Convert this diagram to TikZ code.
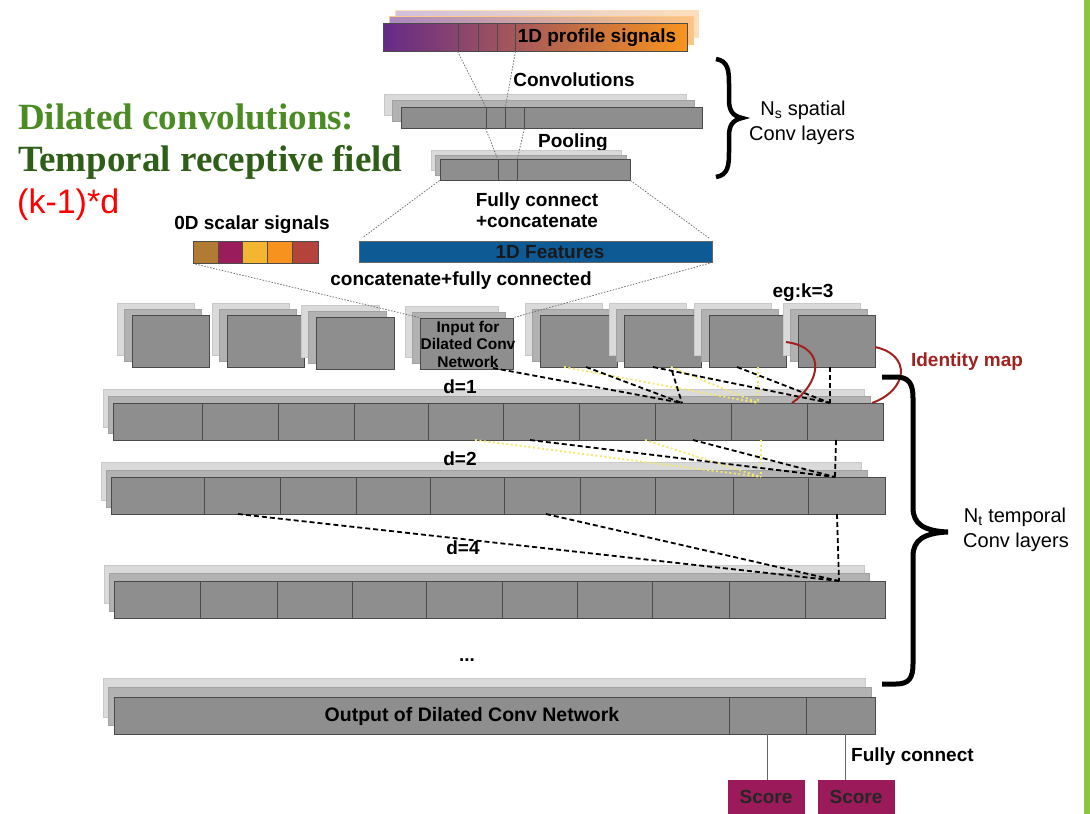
\documentclass[tikz,border=0pt]{standalone}
\usepackage{fontspec}
\setmainfont{Liberation Sans}
\newfontfamily\tserif{Liberation Serif}
\usetikzlibrary{fit,calc}
\definecolor{boxgray}{HTML}{8E8E8E}
\definecolor{boxedge}{HTML}{4A4A4A}
\definecolor{midgray}{HTML}{B2B2B2}
\definecolor{midedge}{HTML}{A2A2A2}
\definecolor{backgray}{HTML}{DADADA}
\definecolor{backedge}{HTML}{C9C9C9}
\definecolor{idred}{HTML}{A0221E}
\definecolor{dotyellow}{HTML}{F3E86A}
\definecolor{greenbar}{HTML}{8DC63F}
\definecolor{featblue}{HTML}{0E5A95}
\definecolor{scorec}{HTML}{9B1B5A}
\definecolor{tgreenA}{HTML}{4B8B23}
\definecolor{tgreenB}{HTML}{2E5E17}
\definecolor{purpA}{HTML}{652A88}
\definecolor{orngA}{HTML}{F8941E}
\definecolor{midA}{HTML}{B9584F}
\definecolor{zdA}{HTML}{B27B33}
\definecolor{zdB}{HTML}{9A1C5B}
\definecolor{zdC}{HTML}{F4B630}
\definecolor{zdD}{HTML}{F7921E}
\definecolor{zdE}{HTML}{B4443B}
\tikzset{
  mainbox/.style={draw=boxedge, fill=boxgray, line width=0.9pt, inner sep=0pt},
  midbox/.style={draw=midedge, fill=midgray, line width=0.6pt, inner sep=0pt},
  backbox/.style={draw=backedge, fill=backgray, line width=0.6pt, inner sep=0pt},
  cellline/.style={draw=boxedge, line width=0.9pt, inner sep=0pt},
  lbl/.style={font=\bfseries\fontsize{19}{22}\selectfont, inner sep=0pt},
  reg/.style={font=\fontsize{20}{24}\selectfont, inner sep=0pt},
  blackdash/.style={draw=black, line width=1.8pt, dash pattern=on 5pt off 3pt},
  yellowdot/.style={draw=dotyellow, line width=1.8pt, dash pattern=on 2pt off 2.5pt},
  graydot/.style={draw=black!55, line width=0.8pt, dash pattern=on 1.5pt off 1.5pt},
  idmap/.style={draw=idred, line width=2pt},
  bracepath/.style={draw=black, line width=5pt},
  thinline/.style={draw=black!60, line width=0.8pt},
}
% stacked box: {name}{x1,y1}{x2,y2}
\newcommand{\stk}[3]{%
  \node[backbox, fit={($(#2)+(-15,-12)$) ($(#3)+(-15,-12)$)}] (#1back) {};
  \node[midbox, fit={($(#2)+(-8,-6)$) ($(#3)+(-8,-6)$)}] (#1mid) {};
  \node[mainbox, fit={(#2) (#3)}] (#1) {};}

\begin{document}
\begin{tikzpicture}[x=1pt,y=-1pt]
\useasboundingbox (0,0) rectangle (1090,814);
\fill[white] (0,0) rectangle (1090,814);
\fill[greenbar] (1084,0) rectangle (1090,814);

% ---- title text
\node[anchor=base west, inner sep=0pt, text=tgreenA, font=\tserif\bfseries\fontsize{37}{40}\selectfont] (t1) at (18,129) {Dilated convolutions:};
\node[anchor=base west, inner sep=0pt, text=tgreenB, font=\tserif\bfseries\fontsize{37}{40}\selectfont] (t2) at (18,171) {Temporal receptive field};
\node[anchor=base west, inner sep=0pt, text=red, font=\fontsize{34}{38}\selectfont] (t3) at (17,213) {(k-1)*d};

% ---- 1D profile signals
\node[backbox, draw=orngA!30, left color=purpA!30, right color=orngA!30, fit={(395,10) (698,37)}] (profback) {};
\node[backbox, draw=orngA!50, left color=purpA!55, right color=orngA!55, fit={(389,16) (693,44)}] (profmid) {};
\node[draw=black!70, line width=0.9pt, inner sep=0pt, left color=purpA, middle color=midA, right color=orngA, fit={(383,23) (687,51)}] (prof) {};
\node[cellline, fit={(458,23) (478,51)}] (pc1) {};
\node[cellline, fit={(478,23) (497,51)}] (pc2) {};
\node[cellline, fit={(497,23) (515,51)}] (pc3) {};
\node[lbl] (proftxt) at (597,38) {1D profile signals};

\node[lbl] (convtxt) at (574,80) {Convolutions};

% ---- conv layer
\node[backbox, fit={(384,94) (686,115)}] (convback) {};
\node[midbox, fit={(392,100) (694,121)}] (convmid) {};
\node[mainbox, fit={(401,107) (702,128)}] (conv) {};
\node[cellline, fit={(486,107) (505,128)}] (cc1) {};
\node[cellline, fit={(505,107) (524,128)}] (cc2) {};

\node[lbl] (pooltxt) at (573,143) {Pooling};

% ---- pool layer
\node[backbox, fit={(431,150) (621,170)}] (poolback) {};
\node[midbox, fit={(435,155) (626,175)}] (poolmid) {};
\node[mainbox, fit={(440,159) (630,180)}] (pool) {};
\node[cellline, fit={(498,159) (517,180)}] (pl1) {};

\draw[graydot] (pc1.south west) -- (cc1.north west);
\draw[graydot] (pc3.south east) -- (cc1.north east);
\draw[graydot] (cc1.south west) -- (pl1.north west);
\draw[graydot] (cc2.south east) -- (pl1.north east);

% ---- braces Ns
\draw[bracepath, line width=4.5pt] (716,59) .. controls (728,61) and (729,70) .. (729,84) -- (729,100) .. controls (729,111) and (733,116) .. (742,118) .. controls (733,120) and (729,125) .. (729,136) -- (729,152) .. controls (729,166) and (728,175) .. (716,177);
\node[reg] (nstxt1) at (803,110) {N\textsubscript{s} spatial};
\node[reg] (nstxt2) at (802,135) {Conv layers};

% ---- features
\node[lbl, align=center, font=\bfseries\fontsize{19}{21}\selectfont] (fctxt) at (537,210) {Fully connect\\+concatenate};
\node[lbl] (zdtxt) at (252,225) {0D scalar signals};
\node[draw=black!70, line width=0.8pt, fill=zdA, inner sep=0pt, fit={(193,241) (218,263)}] (zd1) {};
\node[draw=black!70, line width=0.8pt, fill=zdB, inner sep=0pt, fit={(218,241) (242,263)}] (zd2) {};
\node[draw=black!70, line width=0.8pt, fill=zdC, inner sep=0pt, fit={(242,241) (267,263)}] (zd3) {};
\node[draw=black!70, line width=0.8pt, fill=zdD, inner sep=0pt, fit={(267,241) (292,263)}] (zd4) {};
\node[draw=black!70, line width=0.8pt, fill=zdE, inner sep=0pt, fit={(292,241) (318,263)}] (zd5) {};
\node[draw=black!60, line width=0.8pt, fill=featblue, inner sep=0pt, fit={(359,241) (712,262)}] (feat) {};
\node[lbl, text=black!90] (feattxt) at (550,252) {1D Features};
\node[lbl] (cfctxt) at (461,281) {concatenate+fully connected};

\draw[graydot, shorten >=6pt] (pool.south west) -- (feat.north west);
\draw[graydot, shorten >=4pt] (pool.south east) -- (feat.north east);

% ---- input row
\stk{b1}{132,315}{209,367}
\stk{b2}{227,315}{304,367}
\stk{b3}{316,317}{394,369}
\stk{b4}{420,318}{513,369}
\node[align=center, inner sep=0pt, font=\bfseries\fontsize{15.5}{17.5}\selectfont] (b4txt) at (468,344) {Input for\\Dilated Conv\\Network};
\stk{b5}{540,315}{617,367}
\stk{b6}{624,315}{701,367}
\stk{b7}{709,315}{786,367}
\stk{b8}{798,315}{875,367}
\node[lbl] (egtxt) at (803,293) {eg:k=3};

\draw[graydot, shorten <=3pt] (zd1.south west) -- (b4.north west);
\draw[graydot, shorten <=3pt] (feat.south east) -- (b4.north east);

% ---- d=1 layer
\node[backbox, fit={(103,389) (864,427)}] (L1back) {};
\node[midbox, fit={(108,396) (870,433)}] (L1mid) {};
\foreach \a/\b [count=\i] in {113/202,202/278,278/354,354/428,428/503,503/579,579/655,655/731,731/807,807/883}
  \node[mainbox, fit={(\a,403) (\b,440)}] (L1c\i) {};
\node[lbl] (d1txt) at (460,387) {d=1};

% ---- d=2 layer
\node[backbox, fit={(101,462) (861,500)}] (L2back) {};
\node[midbox, fit={(106,470) (867,507)}] (L2mid) {};
\foreach \a/\b [count=\i] in {111/204,204/280,280/356,356/430,430/504,504/580,580/655,655/733,733/808,808/885}
  \node[mainbox, fit={(\a,477) (\b,514)}] (L2c\i) {};
\node[lbl] (d2txt) at (460,459) {d=2};

% ---- d=4 layer
\node[backbox, fit={(104,565) (864,603)}] (L3back) {};
\node[midbox, fit={(109,573) (869,611)}] (L3mid) {};
\foreach \a/\b [count=\i] in {114/200,200/277,277/352,352/426,426/502,502/577,577/652,652/729,729/805,805/885}
  \node[mainbox, fit={(\a,581) (\b,618)}] (L3c\i) {};
\node[lbl] (d4txt) at (463,548) {d=4};

\node[lbl] (dots) at (467,660) {...};

% ---- output layer
\node[backbox, fit={(103,678) (865,717)}] (outback) {};
\node[midbox, fit={(108,687) (871,725)}] (outmid) {};
\node[mainbox, fit={(114,697) (875,734)}] (out) {};
\node[cellline, fit={(729,697) (806,734)}] (oc2) {};
\node[cellline, fit={(806,697) (875,734)}] (oc3) {};
\node[lbl, font=\bfseries\fontsize{19.5}{22}\selectfont] (outtxt) at (472,716) {Output of Dilated Conv Network};

\node[fill=scorec, inner sep=0pt, fit={(728,780) (805,822)}] (sc1) {};
\node[fill=scorec, inner sep=0pt, fit={(818,780) (895,822)}] (sc2) {};
\node[lbl, text=black!85] (sc1t) at (766,797) {Score};
\node[lbl, text=black!85] (sc2t) at (856,797) {Score};
\draw[thinline] (oc2.south) -- (oc2.south |- sc1.north);
\draw[thinline] ($(oc3.south)+(5,0)$) -- ($(oc3.south |- sc2.north)+(5,0)$);
\node[lbl, anchor=west] (fc2txt) at (851,757) {Fully connect};

% ---- dashed connections d=1
\coordinate (ta) at (682,403);
\coordinate (tb) at (830,403);
\coordinate (tc) at (758,403);
\coordinate (sa1) at (493,368);
\coordinate (sa2) at (586,367);
\coordinate (sa3) at (672,371);
\coordinate (sb1) at (653,367);
\coordinate (sb2) at (737,367);
\coordinate (sb3) at (830,367);
\coordinate (sc1p) at (564,367);
\coordinate (sc2p) at (671,367);
\coordinate (sc3p) at (758,367);
\draw[yellowdot] (sc1p) -- (tc);
\draw[yellowdot] (sc2p) -- (tc);
\draw[yellowdot] (sc3p) -- (tc);
\draw[blackdash] (sa1) -- (ta);
\draw[blackdash] (sa2) -- (ta);
\draw[blackdash] (sa3) -- (ta);
\draw[blackdash] (sb1) -- (tb);
\draw[blackdash] (sb2) -- (tb);
\draw[blackdash] (sb3) -- (tb);

% ---- dashed connections d=2
\coordinate (td) at (835,477);
\coordinate (te) at (761,477);
\coordinate (sd1) at (530,440);
\coordinate (sd2) at (693,440);
\coordinate (sd3) at (836,440);
\coordinate (se1) at (475,440);
\coordinate (se2) at (645,440);
\coordinate (se3) at (761,440);
\draw[yellowdot] (se1) -- (te);
\draw[yellowdot] (se2) -- (te);
\draw[yellowdot] (se3) -- (te);
\draw[blackdash] (sd1) -- (td);
\draw[blackdash] (sd2) -- (td);
\draw[blackdash] (sd3) -- (td);

% ---- dashed connections d=4
\coordinate (tf) at (839,581);
\coordinate (sf1) at (238,514);
\coordinate (sf2) at (546,514);
\coordinate (sf3) at (837,514);
\draw[blackdash] (sf1) -- (tf);
\draw[blackdash] (sf2) -- (tf);
\draw[blackdash] (sf3) -- (tf);

% ---- identity maps
\coordinate (ia1) at (786,342);
\coordinate (ia2) at (792,403);
\coordinate (ib1) at (875,347);
\coordinate (ib2) at (872,403);
\draw[idmap] (ia1) .. controls (830,348) and (818,385) .. (ia2);
\draw[idmap] (ib1) .. controls (912,355) and (908,390) .. (ib2);
\node[lbl, text=idred] (idtxt) at (967,362) {Identity map};

% ---- brace Nt
\draw[bracepath] (882,377) -- (896,377) .. controls (909,377) and (913,384) .. (913,398) -- (913,508) .. controls (913,524) and (924,531) .. (948,532) .. controls (924,533) and (913,540) .. (913,556) -- (913,664) .. controls (913,678) and (909,684) .. (896,684) -- (882,684);
\node[reg] (nttxt1) at (1015,517) {N\textsubscript{t} temporal};
\node[reg] (nttxt2) at (1016,542) {Conv layers};

\end{tikzpicture}
\end{document}
